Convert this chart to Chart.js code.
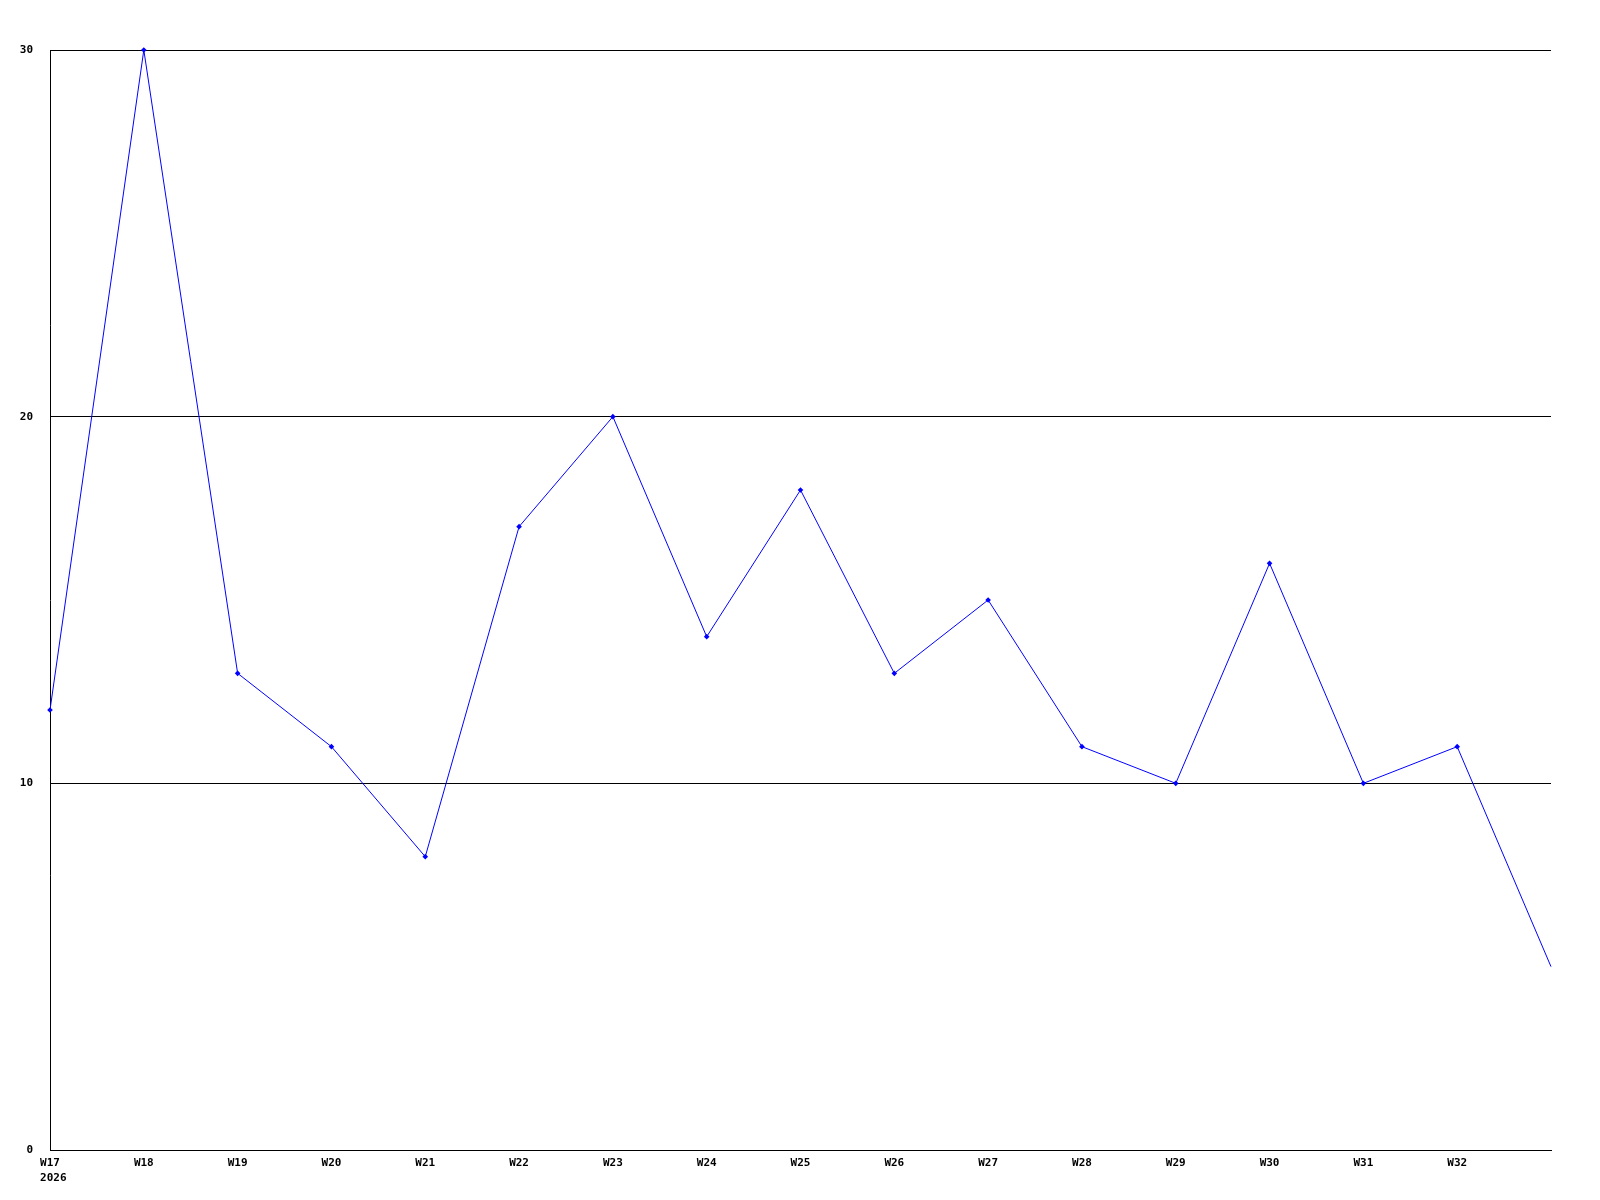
<!DOCTYPE html>
<html>
<head>
<meta charset="utf-8">
<script src="https://cdn.jsdelivr.net/npm/chart.js@4/dist/chart.umd.min.js"></script>
<style>
html,body{margin:0;padding:0;background:#fff;}
#wrap{width:1600px;height:1200px;}
</style>
</head>
<body>
<div id="wrap"><canvas id="c" width="1600" height="1200"></canvas></div>
<script>
const weeks = ['W17','W18','W19','W20','W21','W22','W23','W24','W25','W26','W27','W28','W29','W30','W31','W32','W33'];
const values = [12,30,13,11,8,17,20,14,18,13,15,11,10,16,10,11,5];
const yearLabel = '2026';
const yTicks = [0,10,20,30];

const font = {family:'"DejaVu Sans Mono", monospace', size:11, weight:'bold'};
const fontStr = 'bold 11px "DejaVu Sans Mono", monospace';

const yearPlugin = {
  id:'yearLabel',
  afterDraw(chart){
    const xs = chart.scales.x;
    const ctx = chart.ctx;
    ctx.save();
    ctx.font = fontStr;
    ctx.fillStyle = '#000';
    ctx.textBaseline = 'top';
    ctx.textAlign = 'left';
    const x0 = xs.getPixelForTick(0) - ctx.measureText(weeks[0]).width/2;
    ctx.fillText(yearLabel, x0, xs.top + 23);
    ctx.restore();
  }
};

new Chart(document.getElementById('c'), {
  type:'line',
  data:{
    labels: weeks,
    datasets:[{
      data: values,
      borderColor:'#0000ff',
      backgroundColor:'#0000ff',
      borderWidth:1,
      tension:0,
      pointStyle:'rectRot',
      pointRadius: values.map((v,i)=> i===values.length-1 ? 0 : 2.8),
      pointBorderWidth:0,
      clip:false
    }]
  },
  plugins:[yearPlugin],
  options:{
    responsive:false,
    animation:false,
    devicePixelRatio:1,
    layout:{padding:{left:0,right:49,top:50,bottom:0}},
    plugins:{legend:{display:false},tooltip:{enabled:false}},
    scales:{
      x:{
        offset:false,
        grid:{display:false, drawTicks:false},
        border:{display:true,color:'#000',width:1},
        afterFit:(s)=>{s.height=50;},
        ticks:{
          autoSkip:false, maxRotation:0, padding:7, color:'#000', font:font,
          callback:function(v,i){
            if(i===weeks.length-1) return '';
            return weeks[i];
          }
        }
      },
      y:{
        min:0,max:30,
        afterFit:(s)=>{s.width=50;},
        afterBuildTicks:(s)=>{s.ticks=yTicks.map(v=>({value:v}));},
        grid:{color:'#000',lineWidth:1,drawTicks:false},
        border:{display:true,color:'#000',width:1},
        ticks:{padding:17,color:'#000',font:font}
      }
    }
  }
});
</script>
</body>
</html>
